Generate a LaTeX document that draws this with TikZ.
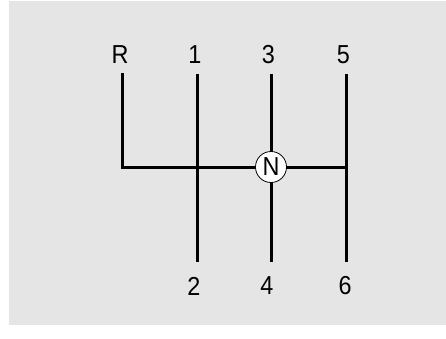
\documentclass[tikz,border=0pt]{standalone}
\usepackage{fontspec}
\setmainfont{Liberation Sans}
\definecolor{bg}{RGB}{229,229,229}
\begin{document}
\begin{tikzpicture}[x=1pt,y=-1pt,
  gate/.style={line width=3pt},
  lbl/.style={font=\fontsize{26}{30}\selectfont, inner sep=0pt, xscale=0.9},
  neutral/.style={circle, draw, line width=0.8pt, fill=white, minimum size=31pt, inner sep=0pt}]
\useasboundingbox (0,0) rectangle (446,338);
\fill[bg] (9,1) rectangle (446,325);
% coordinates
\coordinate (rT) at (122,73);
\coordinate (rB) at (122,167);
\coordinate (aT) at (197,74);
\coordinate (aB) at (197,262);
\coordinate (bT) at (271,74);
\coordinate (bB) at (271,262);
\coordinate (cT) at (346,74);
\coordinate (cB) at (346,262);
\coordinate (cM) at (346,167);
\draw[gate] (rT) -- (rB) -- (cM);
\draw[gate] (aT) -- (aB);
\draw[gate] (bT) -- (bB);
\draw[gate] (cT) -- (cB);
\node[neutral] (n) at (271,167) {};
\node[lbl] (nl) at (n.center) {N};
\node[lbl] (lR) at (120,55) {R};
\node[lbl] (l1) at (195,55) {1};
\node[lbl] (l3) at (268.5,55) {3};
\node[lbl] (l5) at (343.5,55) {5};
\node[lbl] (l2) at (194,286) {2};
\node[lbl] (l4) at (267,286) {4};
\node[lbl] (l6) at (345,286) {6};
\end{tikzpicture}
\end{document}
